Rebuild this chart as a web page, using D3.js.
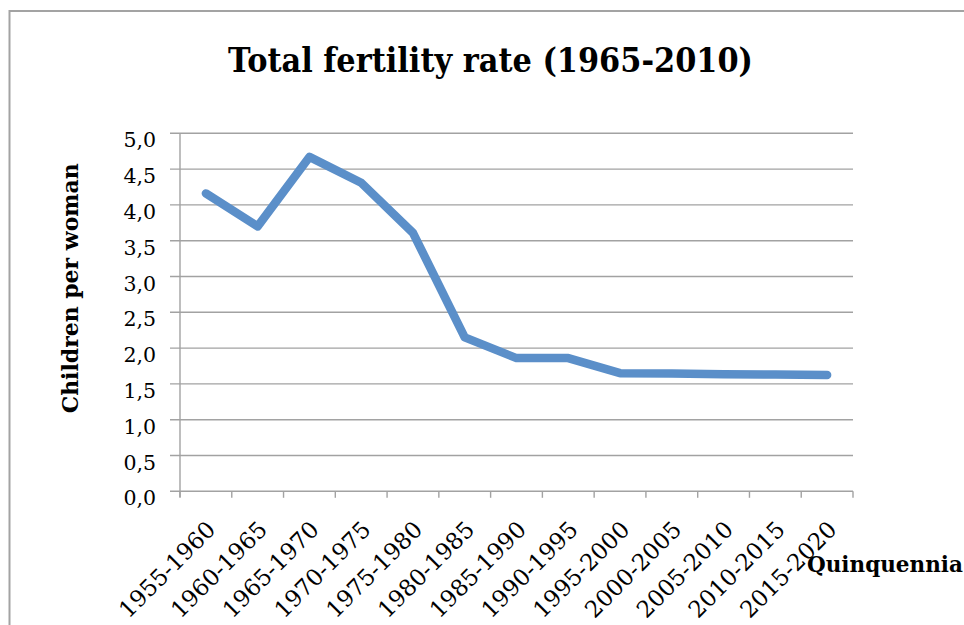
<!DOCTYPE html>
<html>
<head>
<meta charset="utf-8">
<script src="https://cdn.jsdelivr.net/npm/d3@7/dist/d3.min.js"></script>
<style>
  html, body { margin: 0; padding: 0; background: #fff; }
  svg { display: block; }
  text { font-family: "DejaVu Serif", serif; fill: #000; }
</style>
</head>
<body>
<svg></svg>
<script>
'use strict';

// chart data
var periods = ['1955-1960', '1960-1965', '1965-1970', '1970-1975', '1975-1980', '1980-1985', '1985-1990',
    '1990-1995', '1995-2000', '2000-2005', '2005-2010', '2010-2015', '2015-2020'];
var fertility = [4.16, 3.70, 4.67, 4.31, 3.61, 2.15, 1.86, 1.86, 1.65, 1.645, 1.635, 1.63, 1.625];
var yTicks = [0, 0.5, 1, 1.5, 2, 2.5, 3, 3.5, 4, 4.5, 5];

var titleText = 'Total fertility rate (1965-2010)';
var yTitle = 'Children per woman';
var xTitle = 'Quinquennia';

function render() {
    var w = 964;
    var h = 625;
    var d3 = window.d3;

    var svg = d3.select('svg').attr('width', w).attr('height', h);

    // chart border (runs off the right and bottom edges)
    svg.append('rect')
        .attr('x', 9.5).attr('y', 11)
        .attr('width', 1000).attr('height', 700)
        .attr('fill', 'none').attr('stroke', '#a3a3a3').attr('stroke-width', 2);

    var x = d3.scaleBand().domain(periods).range([180, 853]).padding(0);
    var y = d3.scaleLinear().domain([0, 5]).range([491.3, 133.3]);
    var bw = x.bandwidth();

    var fmt = d3.formatLocale({ decimal: ',', thousands: '.', grouping: [3], currency: ['', ''] }).format('.1f');

    // gridlines
    svg.append('g').selectAll('line').data(yTicks).enter().append('line')
        .attr('x1', 170).attr('x2', 853)
        .attr('y1', function (d) { return y(d); })
        .attr('y2', function (d) { return y(d); })
        .attr('stroke', '#a2a2a2').attr('stroke-width', 1.4);

    // y axis line
    svg.append('line')
        .attr('x1', 180).attr('x2', 180)
        .attr('y1', y(5)).attr('y2', y(0) + 6)
        .attr('stroke', '#a2a2a2').attr('stroke-width', 1.4);

    // y tick labels
    svg.append('g').selectAll('text').data(yTicks).enter().append('text')
        .attr('x', 156)
        .attr('y', function (d) { return y(d) + 14; })
        .attr('text-anchor', 'end')
        .style('font-size', '20.5px')
        .text(function (d) { return fmt(d); });

    // x axis ticks at category boundaries
    var bounds = periods.map(function (p) { return x(p); }).concat([x(periods[periods.length - 1]) + bw]);
    svg.append('g').selectAll('line').data(bounds).enter().append('line')
        .attr('x1', function (d) { return d; })
        .attr('x2', function (d) { return d; })
        .attr('y1', y(0)).attr('y2', y(0) + 6.5)
        .attr('stroke', '#a2a2a2').attr('stroke-width', 1.4);

    // x tick labels, rotated
    svg.append('g').selectAll('text').data(periods).enter().append('text')
        .attr('transform', function (d) {
            return 'translate(' + (x(d) + bw / 2 + 11) + ',531) rotate(-45)';
        })
        .attr('text-anchor', 'end')
        .style('font-size', '23px')
        .text(function (d) { return d; });

    // the line
    var line = d3.line()
        .x(function (d, i) { return x(periods[i]) + bw / 2; })
        .y(function (d) { return y(d); });

    svg.append('path')
        .datum(fertility)
        .attr('d', line)
        .attr('fill', 'none')
        .attr('stroke', '#5b8fc9')
        .attr('stroke-width', 8.5)
        .attr('stroke-linejoin', 'round')
        .attr('stroke-linecap', 'round');

    // title
    svg.append('text')
        .attr('x', 490.5).attr('y', 72.3)
        .attr('text-anchor', 'middle')
        .attr('textLength', 525).attr('lengthAdjust', 'spacingAndGlyphs')
        .style('font-size', '33px').style('font-weight', 'bold')
        .text(titleText);

    // axis titles
    svg.append('text')
        .attr('transform', 'translate(78,288.3) rotate(-90)')
        .attr('text-anchor', 'middle')
        .attr('textLength', 250).attr('lengthAdjust', 'spacingAndGlyphs')
        .style('font-size', '22px').style('font-weight', 'bold')
        .text(yTitle);

    svg.append('text')
        .attr('x', 807).attr('y', 572)
        .style('font-size', '21.5px').style('font-weight', 'bold')
        .text(xTitle);
}

render();
</script>
</body>
</html>
